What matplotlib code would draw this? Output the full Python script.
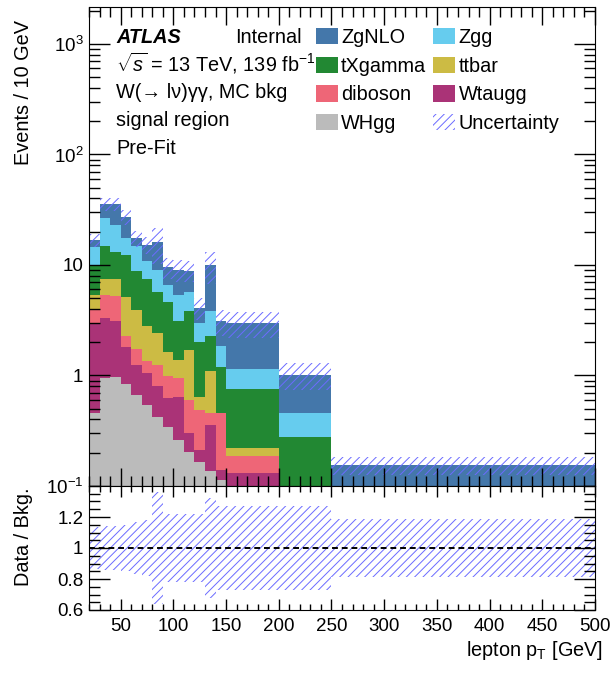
import numpy as np
import matplotlib
matplotlib.use("Agg")
import matplotlib.pyplot as plt
from matplotlib.patches import Patch
from matplotlib.ticker import MultipleLocator, FixedLocator, FuncFormatter, LogLocator

plt.rcParams["font.family"] = ["Liberation Sans", "DejaVu Sans"]
plt.rcParams["mathtext.fontset"] = "custom"
plt.rcParams["mathtext.rm"] = "Liberation Sans"
plt.rcParams["mathtext.it"] = "Liberation Sans:italic"
plt.rcParams["mathtext.bf"] = "Liberation Sans:bold"
plt.rcParams["hatch.linewidth"] = 0.7

# lepton pT bin edges [GeV]
edges = [20, 30, 40, 50, 60, 70, 80, 90, 100, 110, 120, 130, 140, 150, 200, 250, 500]

# per-sample yields (events), bottom of stack first
WHgg = [0.46, 0.95, 0.97, 0.84, 0.67, 0.54, 0.42, 0.34, 0.26, 0.205, 0.166, 0.137, 0.113, 0, 0, 0]
Wtaugg = [2.44, 2.35, 2.13, 0.96, 0.58, 0.51, 0.38, 0.28, 0.38, 0.095, 0.044, 0.219, 0.027, 0.132, 0, 0]
diboson = [1.1, 2.0, 2.1, 0.5, 0.5, 0.3, 0.45, 0.36, 0.30, 0.30, 0.28, 0.10, 0.315, 0.055, 0, 0]
ttbar = [1.4, 2.1, 2.2, 2.8, 2.15, 1.45, 1.15, 0.66, 0.44, 1.10, 0.15, 0.64, 0.0, 0.032, 0, 0]
tXgamma = [4.6, 7.5, 5.8, 7.2, 4.9, 4.7, 3.3, 2.96, 1.72, 2.1, 1.36, 1.2, 0.735, 0.53, 0.28, 0]
Zgg = [4.6, 11.7, 9.8, 5.2, 5.9, 3.3, 3.4, 2.0, 2.25, 1.9, 0.97, 1.5, 0.64, 0.39, 0.175, 0]
ZgNLO = [2.2, 9.0, 12.6, 9.8, 2.8, 4.5, 6.9, 2.9, 3.65, 3.2, 1.13, 6.2, 1.27, 1.83, 0.565, 0.154]

# relative uncertainty of the total background
rel_unc = [0.135, 0.14, 0.14, 0.15, 0.17, 0.18, 0.36, 0.22, 0.22, 0.22, 0.22, 0.32, 0.27, 0.27, 0.27, 0.19]

samples = [
    ("WHgg", WHgg, "#BBBBBB"),
    ("Wtaugg", Wtaugg, "#AA3377"),
    ("diboson", diboson, "#EE6677"),
    ("ttbar", ttbar, "#CCBB44"),
    ("tXgamma", tXgamma, "#228833"),
    ("Zgg", Zgg, "#66CCEE"),
    ("ZgNLO", ZgNLO, "#4477AA"),
]
hatch_col = "#6b6bff"
fs = 14.3
tfs = 13.5

W, H = 611, 675
fig = plt.figure(figsize=(W / 100, H / 100), dpi=100)
ax = fig.add_axes([89 / W, 1 - 486 / H, 506 / W, 479 / H])
rax = fig.add_axes([89 / W, 1 - 610 / H, 506 / W, 124 / H], sharex=ax)

edges = np.array(edges, dtype=float)
stack = np.cumsum(np.array([s[1] for s in samples], dtype=float), axis=0)
prev = np.full(len(edges) - 1, 1e-3)
handles = {}
for (name, vals, col), top in zip(samples, stack):
    ax.stairs(top, edges, baseline=prev, fill=True, color=col, lw=0)
    handles[name] = Patch(facecolor=col, lw=0)
    prev = top

total = stack[-1]
unc = np.array(rel_unc)
ax.stairs(total * (1 + unc), edges, baseline=total * (1 - unc), fill=True,
          facecolor="none", edgecolor=hatch_col, hatch="////", lw=0)
handles["Uncertainty"] = Patch(facecolor="none", edgecolor=hatch_col, hatch="////", lw=0)

rax.stairs(1 + unc, edges, baseline=1 - unc, fill=True,
           facecolor="none", edgecolor=hatch_col, hatch="////", lw=0)
rax.axhline(1, color="k", ls=(0, (3, 2)), lw=1.4)

# axes
ax.set_yscale("log")
ax.set_ylim(0.1, 2160)
ax.set_xlim(20, 500)
rax.set_ylim(0.6, 1.4)


def log_fmt(v, pos):
    e = int(round(np.log10(v)))
    if e == 0:
        return "1"
    if e == 1:
        return "10"
    return r"$10^{%d}$" % e


ax.yaxis.set_major_locator(LogLocator(base=10, numticks=10))
ax.yaxis.set_minor_locator(LogLocator(base=10, subs=np.arange(2, 10), numticks=10))
ax.yaxis.set_major_formatter(FuncFormatter(log_fmt))
ax.xaxis.set_major_locator(MultipleLocator(50))
ax.xaxis.set_minor_locator(MultipleLocator(10))
rax.yaxis.set_major_locator(FixedLocator([0.6, 0.8, 1.0, 1.2]))
rax.yaxis.set_minor_locator(MultipleLocator(0.05))
rax.yaxis.set_major_formatter(FuncFormatter(lambda v, p: "%g" % v))

for a in (ax, rax):
    a.tick_params(which="both", direction="in", top=True, right=True, labelsize=tfs, width=1)
    a.tick_params(axis="y", which="major", length=15, pad=4)
    a.tick_params(axis="y", which="minor", length=8)
ax.tick_params(axis="x", which="major", length=13, labelbottom=False)
ax.tick_params(axis="x", which="minor", length=7)
rax.tick_params(axis="x", which="major", length=8, pad=6)
rax.tick_params(axis="x", which="minor", length=4)

ax.set_ylabel("Events / 10 GeV", fontsize=fs, loc="top")
ax.yaxis.set_label_coords(-0.11, 0.973)
rax.set_ylabel("Data / Bkg.", fontsize=fs, loc="top")
rax.yaxis.set_label_coords(-0.11, 0.99)
rax.set_xlabel(r"lepton p$_{\mathrm{T}}$ [GeV]", fontsize=fs, loc="right")
rax.xaxis.set_label_coords(1.016, -0.235)

# labels
fig.text(116 / W, 1 - 43 / H, "ATLAS", fontsize=fs, weight="bold", style="italic", va="baseline")
fig.text(235 / W, 1 - 43 / H, "Internal", fontsize=fs, va="baseline")
fig.text(116 / W, 1 - 71 / H, r"$\sqrt{s}$ = 13 TeV, 139 fb$^{-1}$", fontsize=fs, va="baseline")
fig.text(116 / W, 1 - 98 / H, "W(→ lν)γγ, MC bkg", fontsize=fs, va="baseline")
fig.text(116 / W, 1 - 126 / H, "signal region", fontsize=fs, va="baseline")
fig.text(116 / W, 1 - 154 / H, "Pre-Fit", fontsize=fs, va="baseline")

order = ["ZgNLO", "tXgamma", "diboson", "WHgg", "Zgg", "ttbar", "Wtaugg", "Uncertainty"]
ax.legend([handles[k] for k in order], order, ncol=2, loc="upper left",
          bbox_to_anchor=(316 / W, 1 - 28 / H), bbox_transform=fig.transFigure,
          frameon=False, fontsize=fs, handlelength=1.1, handleheight=0.9,
          handletextpad=0.17, columnspacing=0.35, labelspacing=0.48,
          borderpad=0, borderaxespad=0)

fig.savefig("out.png", dpi=100)
